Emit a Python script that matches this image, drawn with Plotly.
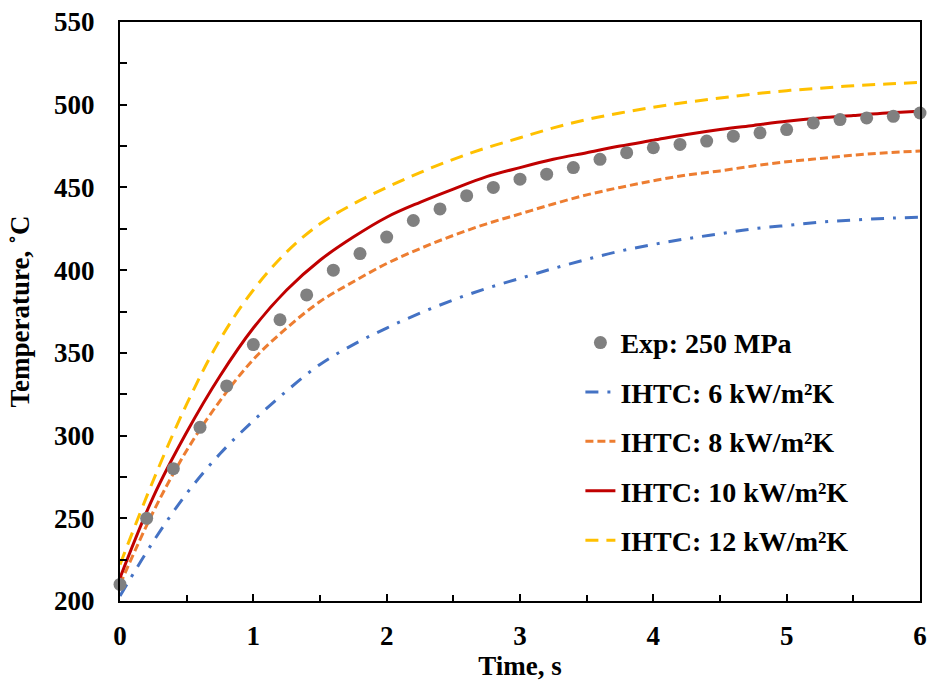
import plotly.graph_objects as go

# Experimental data (every 0.2 s)
t_exp = [round(0.2 * i, 1) for i in range(31)]
T_exp = [210, 250, 280, 305, 330, 355, 370, 385, 400, 410, 420, 430, 437, 445, 450,
         455, 458, 462, 467, 471, 474, 476, 478, 481, 483, 485, 489, 491, 492, 493, 495]

# Simulated curves (read every 0.25 s)
t_sim = [0, 0.25, 0.5, 0.75, 1.0, 1.25, 1.5, 1.75, 2.0, 2.25, 2.5, 2.75, 3.0,
         3.25, 3.5, 3.75, 4.0, 4.25, 4.5, 4.75, 5.0, 5.25, 5.5, 5.75, 6.0]
T_6 = [203, 236, 265, 289, 309, 327, 343, 355, 365, 374, 382, 389, 395,
       401, 406.5, 411.5, 415.5, 419, 422, 425, 427, 429, 430.3, 431.3, 432]
T_8 = [210, 254, 291, 321, 346, 365, 381, 393, 404, 413, 421, 428, 434,
       440, 445.5, 450, 454, 457.5, 460, 463, 465.5, 467.5, 469.5, 471, 472]
T_10 = [214, 263, 302, 336, 365, 388, 406, 420, 432, 441, 449, 456.5, 462,
        467, 471, 475, 478.5, 482, 485, 487.5, 490, 492, 493.5, 495, 496]
T_12 = [222, 273, 319, 358, 388, 411, 428, 440, 450, 459, 467, 474, 480,
        486, 491, 495, 498.5, 501.5, 504, 506.5, 508.5, 510, 511.5, 512.5, 513.5]

labels = ["IHTC: 6 kW/m²K", "IHTC: 8 kW/m²K", "IHTC: 10 kW/m²K", "IHTC: 12 kW/m²K"]
colors = ["#4472C4", "#ED7D31", "#C00000", "#FFC000"]
dashes = ["13px,9px,3px,9px", "8px,4px", "solid", "13px,8px"]

fig = go.Figure()
for i, (ys, lab, col, dsh) in enumerate(zip([T_6, T_8, T_10, T_12], labels, colors, dashes)):
    fig.add_trace(go.Scatter(
        x=t_sim, y=ys, mode="lines", name=lab, line_shape="spline",
        line=dict(color=col, width=3, dash=dsh, smoothing=1.0),
        legendgroup=lab, legendrank=i + 2,
    ))
fig.add_trace(go.Scatter(
    x=t_exp, y=T_exp, mode="markers", name="Exp: 250 MPa",
    marker=dict(color="#808080", size=13), cliponaxis=False,
    legendgroup="exp", legendrank=1,
))

axis_common = dict(
    showline=True, linecolor="black", linewidth=2, mirror=True,
    showgrid=False, zeroline=False, ticks="inside", ticklen=7,
    tickwidth=2, tickcolor="black", automargin=False,
    tickfont=dict(family="Liberation Serif", size=27, color="black", weight="bold"),
)

fig.update_layout(
    width=928, height=684,
    margin=dict(l=120, r=8, t=22, b=83),
    plot_bgcolor="white", paper_bgcolor="white",
    font=dict(family="Liberation Serif", size=27, color="black", weight="bold"),
    xaxis=dict(range=[0, 6], dtick=1, tick0=0,
               minor=dict(ticks="inside", dtick=0.5, ticklen=6, tickwidth=2, tickcolor="black"),
               ticklabelstandoff=10,
               title=dict(text="Time, s", standoff=4,
                          font=dict(family="Liberation Serif", size=27, weight="bold")),
               **axis_common),
    yaxis=dict(range=[200, 550], dtick=50, tick0=200,
               minor=dict(ticks="inside", dtick=25, ticklen=7, tickwidth=2, tickcolor="black"),
               ticklabelstandoff=18,
               title=dict(text="Temperature, ˚C", standoff=17,
                          font=dict(family="Liberation Serif", size=27, weight="bold")),
               **axis_common),
    legend=dict(x=0.5755, y=0.489, xanchor="left", yanchor="top",
                bgcolor="rgba(0,0,0,0)", tracegroupgap=10,
                font=dict(family="Liberation Serif", size=28, color="black", weight="bold")),
)

fig.write_html("out.html", config={"displayModeBar": False},
               post_script="document.body.style.margin='0px';")
